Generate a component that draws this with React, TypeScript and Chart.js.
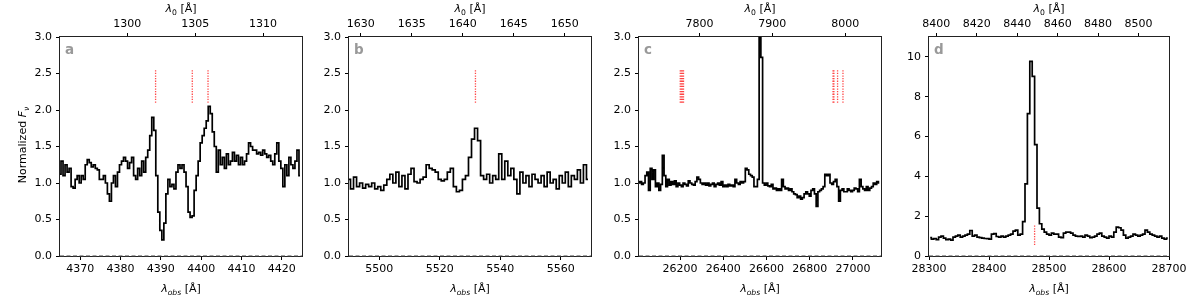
import React, { useEffect, useRef } from "react";
import { Chart, registerables } from "chart.js";
Chart.register(...registerables);

const FONT = '"DejaVu Sans", sans-serif';
const RATIO = 3.3705; // lambda_obs / lambda_0

// ---------- panel a ----------
const aStart = 4365;
const aStep = 0.5;
const aFlux = [
  1.12, 1.3, 1.1, 1.25, 1.15, 1.2, 0.95, 0.93, 1.05, 1.1,
  1.0, 1.1, 1.05, 1.25, 1.32, 1.28, 1.22, 1.25, 1.2, 1.18,
  1.05, 1.05, 1.1, 1.0, 0.85, 0.75, 1.0, 1.1, 0.95, 1.15,
  1.25, 1.3, 1.35, 1.3, 1.2, 1.28, 1.35, 1.1, 1.05, 1.2,
  1.1, 1.3, 1.15, 1.35, 1.45, 1.65, 1.9, 1.72, 1.1, 0.6,
  0.35, 0.22, 0.45, 0.85, 1.05, 0.95, 0.98, 0.92, 1.15, 1.25,
  1.2, 1.25, 1.15, 0.95, 0.6, 0.53, 0.55, 0.9, 1.1, 1.3,
  1.55, 1.65, 1.75, 1.85, 2.05, 1.95, 1.7, 1.5, 1.15, 1.45,
  1.25, 1.35, 1.2, 1.4, 1.25, 1.3, 1.42, 1.3, 1.38, 1.25,
  1.35, 1.25, 1.3, 1.4, 1.55, 1.5, 1.45, 1.45, 1.4, 1.42,
  1.38, 1.45, 1.4, 1.35, 1.38, 1.3, 1.25, 1.4, 1.55, 1.3,
  1.2, 0.95, 1.25, 1.1, 1.35, 1.25, 1.2, 1.3, 1.45, 1.1,
];
const aLines = [4388.7, 4397.8, 4401.7];
const aTicks = [4370, 4380, 4390, 4400, 4410, 4420];
const aTopTicks = [1300, 1305, 1310];

// ---------- panel b ----------
const bStart = 5490;
const bStep = 1;
const bFlux = [
  1.05, 0.92, 1.08, 0.95, 1.0, 0.93, 0.98, 0.95, 1.0, 0.92,
  0.95, 0.9, 0.97, 1.05, 1.12, 1.0, 1.15, 0.95, 1.1, 0.92,
  1.12, 1.2, 1.02, 1.0, 1.05, 1.08, 1.25, 1.2, 1.18, 1.15,
  1.05, 1.03, 1.05, 1.15, 1.2, 0.95, 0.88, 0.9, 1.05, 1.1,
  1.35, 1.6, 1.75, 1.58, 1.1, 1.05, 1.12, 1.0, 1.1, 1.05,
  1.4, 1.05, 1.3, 1.1, 1.2, 1.05, 0.85, 1.15, 1.0, 1.1,
  0.95, 1.12, 1.05, 1.0, 1.1, 0.95, 1.15, 1.0, 1.05, 0.92,
  1.1, 1.0, 1.15, 0.95, 1.1, 1.05, 1.18, 1.0, 1.25, 1.05,
];
const bLines = [5531.8];
const bTicks = [5500, 5520, 5540, 5560];
const bTopTicks = [1630, 1635, 1640, 1645, 1650];

// ---------- panel c ----------
const cStart = 26010;
const cStep = 8;
const cFlux = [
  1.0, 1.02, 0.98, 1.0, 1.1, 1.15, 0.9, 1.2, 1.05, 1.18,
  0.95, 1.0, 0.9, 0.98, 1.38, 1.1, 0.95, 1.05, 0.97, 1.02,
  0.98, 1.03, 0.95, 1.0, 0.97, 0.95, 1.0, 0.98, 0.96, 1.03,
  1.0, 0.98, 0.97, 1.02, 1.08, 1.05, 1.0, 0.98, 1.0, 0.97,
  1.0, 0.96, 0.98, 1.0, 0.95, 0.98, 1.0, 0.97, 1.02, 0.95,
  0.97, 0.95, 0.98, 0.96, 0.97, 0.95, 1.05, 1.0, 0.98, 1.02,
  1.0, 1.02, 1.2, 1.18, 1.12, 1.1, 1.08, 0.95, 0.95, 1.05,
  4.5, 2.72, 1.0, 0.97, 1.0, 0.96, 0.95, 0.98, 0.92, 0.93,
  0.9, 0.92, 0.9, 1.05, 0.95, 0.92, 0.93, 0.9, 0.92, 0.88,
  0.85, 0.84, 0.8, 0.82, 0.78, 0.8, 0.85, 0.88, 0.85, 0.82,
  0.9, 0.92, 0.85, 0.68, 0.88, 0.9, 0.92, 0.95, 1.12, 1.1,
  1.12, 1.0, 0.98, 1.02, 1.05, 0.95, 0.75, 0.9, 0.92, 0.88,
  0.88, 0.92, 0.9, 0.88, 0.9, 0.93, 0.92, 0.88, 1.05, 0.95,
  0.92, 0.9, 0.95, 0.9, 0.93, 0.95, 1.0, 0.98, 1.02, 1.0,
];
const cLines = [26201, 26206, 26211, 26216, 26908, 26912, 26929, 26954];
const cTicks = [26200, 26400, 26600, 26800, 27000];
const cTopTicks = [7800, 7900, 8000];

// ---------- panel d ----------
const dStart = 28302;
const dStep = 4;
const dFlux = [
  0.92, 0.85, 0.88, 0.82, 0.95, 1.0, 0.9, 0.82, 0.85, 0.8,
  0.95, 1.0, 1.05, 0.95, 1.0, 1.05, 1.1, 1.28, 1.0, 1.05,
  0.95, 0.92, 0.9, 0.88, 0.87, 0.85, 1.1, 1.12, 0.98, 0.95,
  1.0, 0.95, 1.0, 1.05, 1.1, 1.25, 1.3, 1.05, 1.1, 1.73,
  3.62, 7.15, 9.78, 9.02, 5.59, 2.4, 1.62, 1.35, 1.2, 1.1,
  1.05, 1.15, 1.1, 1.1, 0.95, 0.92, 1.15, 1.2, 1.2, 1.15,
  1.05, 1.0, 0.98, 1.0, 0.95, 1.05, 1.0, 0.92, 0.95, 1.0,
  1.1, 1.15, 1.0, 0.95, 0.9, 1.0, 0.95, 1.2, 1.45, 1.42,
  1.3, 1.05, 0.9, 0.95, 1.0, 1.1, 1.05, 1.0, 1.05, 1.1,
  1.3, 1.2, 1.1, 1.05, 1.0, 0.95, 1.0, 0.9, 0.85, 0.9,
];
const dLines = [28476];
const dTicks = [28300, 28400, 28500, 28600, 28700];
const dTopTicks = [8400, 8420, 8440, 8460, 8480, 8500];

const yTicks3 = [0, 0.5, 1.0, 1.5, 2.0, 2.5, 3.0];
const yTicks11 = [0, 2, 4, 6, 8, 10];

type PanelSpec = {
  letter: string;
  start: number;
  step: number;
  flux: number[];
  lines: number[];
  lineY: [number, number];
  xmin: number;
  xmax: number;
  xTicks: number[];
  topTicks: number[];
  ymax: number;
  yTicks: number[];
  yDecimals: number;
  canvasLeft: number;
  canvasW: number;
  yAxisW: number;
  padRight: number;
  yLabel: boolean;
};

const panels: PanelSpec[] = [
  { letter: "a", start: aStart, step: aStep, flux: aFlux, lines: aLines, lineY: [2.1, 2.55],
    xmin: 4365, xmax: 4425, xTicks: aTicks, topTicks: aTopTicks, ymax: 3, yTicks: yTicks3, yDecimals: 1,
    canvasLeft: 0, canvasW: 310, yAxisW: 60, padRight: 8, yLabel: true },
  { letter: "b", start: bStart, step: bStep, flux: bFlux, lines: bLines, lineY: [2.1, 2.55],
    xmin: 5490, xmax: 5570, xTicks: bTicks, topTicks: bTopTicks, ymax: 3, yTicks: yTicks3, yDecimals: 1,
    canvasLeft: 310, canvasW: 290, yAxisW: 39, padRight: 9, yLabel: false },
  { letter: "c", start: cStart, step: cStep, flux: cFlux, lines: cLines, lineY: [2.1, 2.55],
    xmin: 26010, xmax: 27130, xTicks: cTicks, topTicks: cTopTicks, ymax: 3, yTicks: yTicks3, yDecimals: 1,
    canvasLeft: 600, canvasW: 290, yAxisW: 39, padRight: 9, yLabel: false },
  { letter: "d", start: dStart, step: dStep, flux: dFlux, lines: dLines, lineY: [0.55, 1.6],
    xmin: 28300, xmax: 28700, xTicks: dTicks, topTicks: dTopTicks, ymax: 11, yTicks: yTicks11, yDecimals: 0,
    canvasLeft: 890, canvasW: 310, yAxisW: 39, padRight: 31, yLabel: false },
];

type Part = { t: string; f: string; dy?: number };

function drawRich(ctx: CanvasRenderingContext2D, parts: Part[], cx: number, y: number) {
  let w = 0;
  for (const p of parts) {
    ctx.font = p.f;
    w += ctx.measureText(p.t).width;
  }
  let x = cx - w / 2;
  ctx.textAlign = "left";
  ctx.textBaseline = "alphabetic";
  for (const p of parts) {
    ctx.font = p.f;
    ctx.fillText(p.t, x, y + (p.dy || 0));
    x += ctx.measureText(p.t).width;
  }
}

function makePlugin(p: PanelSpec) {
  return {
    id: "decor" + p.letter,
    beforeDatasetsDraw(chart: any) {
      const { ctx, chartArea: a } = chart;
      ctx.save();
      ctx.strokeStyle = "#222";
      ctx.lineWidth = 1;
      ctx.strokeRect(a.left - 0.5, a.top - 0.5, a.right - a.left + 1, a.bottom - a.top + 1);
      ctx.restore();
    },
    afterDraw(chart: any) {
      const { ctx, chartArea: a } = chart;
      ctx.save();
      ctx.fillStyle = "#000";
      const cx = (a.left + a.right) / 2;
      const big = `11px ${FONT}`;
      const bigI = `italic 11px ${FONT}`;
      const smallI = `italic 7.7px ${FONT}`;
      const small = `7.7px ${FONT}`;
      drawRich(ctx, [
        { t: "λ", f: bigI },
        { t: "obs", f: smallI, dy: 2.5 },
        { t: " [Å]", f: big },
      ], cx, 292);
      drawRich(ctx, [
        { t: "λ", f: bigI },
        { t: "0", f: small, dy: 2.5 },
        { t: " [Å]", f: big },
      ], cx, 12);
      if (p.yLabel) {
        ctx.save();
        ctx.translate(26, 145);
        ctx.rotate(-Math.PI / 2);
        drawRich(ctx, [
          { t: "Normalized ", f: big },
          { t: "F", f: bigI },
          { t: "ν", f: smallI, dy: 2.5 },
        ], 0, 0);
        ctx.restore();
      }
      ctx.fillStyle = "#999";
      ctx.font = `bold 13.5px ${FONT}`;
      ctx.textAlign = "left";
      ctx.textBaseline = "alphabetic";
      ctx.fillText(p.letter, a.left + 5, a.top + 16.5);
      ctx.restore();
    },
  };
}

function axisCommon() {
  return {
    grid: { display: true, drawOnChartArea: false, drawTicks: true, tickLength: 4, color: "#000", lineWidth: 1 },
    border: { display: false },
  };
}

function PanelChart({ p }: { p: PanelSpec }) {
  const ref = useRef<HTMLCanvasElement>(null);
  useEffect(() => {
    const spectrum = p.flux.map((y, i) => ({ x: p.start + i * p.step, y }));
    const datasets: any[] = [];
    for (const lx of p.lines) {
      datasets.push({
        data: [{ x: lx, y: p.lineY[0] }, { x: lx, y: p.lineY[1] }],
        borderColor: "rgba(255,40,40,0.85)",
        borderWidth: 1.3,
        borderDash: [1.3, 1.3],
        pointRadius: 0,
      });
    }
    datasets.push({
      data: spectrum,
      borderColor: "#000",
      borderWidth: 1.7,
      stepped: "middle",
      pointRadius: 0,
    });
    datasets.push({
      data: [{ x: p.xmin, y: 0 }, { x: p.xmax, y: 0 }],
      borderColor: "#444",
      borderWidth: 1.2,
      borderDash: [4, 2.5],
      pointRadius: 0,
      clip: 4,
    });
    const tickFont = { family: FONT, size: 11 };
    const setTicks = (vals: number[]) => (s: any) => {
      s.ticks = vals.map((v) => ({ value: v }));
    };
    const chart = new Chart(ref.current!, {
      type: "line",
      data: { datasets },
      options: {
        animation: false,
        responsive: false,
        maintainAspectRatio: false,
        events: [],
        layout: { padding: { left: 0, right: p.padRight, top: 0, bottom: 0 } },
        plugins: { legend: { display: false }, tooltip: { enabled: false } },
        scales: {
          x: {
            type: "linear",
            position: "bottom",
            min: p.xmin,
            max: p.xmax,
            afterBuildTicks: setTicks(p.xTicks),
            ticks: {
              autoSkip: false,
              maxRotation: 0,
              padding: 3,
              color: "#000",
              font: tickFont,
              callback: (v: any) => String(v),
            },
            ...axisCommon(),
            afterFit: (s: any) => { s.height = 44; },
          },
          x2: {
            type: "linear",
            axis: "x",
            position: "top",
            min: p.xmin / RATIO,
            max: p.xmax / RATIO,
            afterBuildTicks: setTicks(p.topTicks),
            ticks: {
              autoSkip: false,
              maxRotation: 0,
              padding: 2,
              color: "#000",
              font: tickFont,
              callback: (v: any) => String(v),
            },
            ...axisCommon(),
            afterFit: (s: any) => { s.height = 37; },
          },
          y: {
            type: "linear",
            position: "left",
            min: 0,
            max: p.ymax,
            afterBuildTicks: setTicks(p.yTicks),
            ticks: {
              autoSkip: false,
              padding: 4,
              color: "#000",
              font: tickFont,
              callback: (v: any) => Number(v).toFixed(p.yDecimals),
            },
            ...axisCommon(),
            afterFit: (s: any) => { s.width = p.yAxisW; },
          },
        },
      } as any,
      plugins: [makePlugin(p)],
    });
    return () => chart.destroy();
  }, [p]);
  return (
    <canvas
      ref={ref}
      width={p.canvasW}
      height={300}
      style={{ position: "absolute", left: p.canvasLeft, top: 0, width: p.canvasW, height: 300 }}
    />
  );
}

export default function App() {
  return (
    <div style={{ position: "absolute", left: 0, top: 0, width: 1200, height: 300, background: "#fff", overflow: "hidden" }}>
      {panels.map((p) => (
        <PanelChart key={p.letter} p={p} />
      ))}
    </div>
  );
}
